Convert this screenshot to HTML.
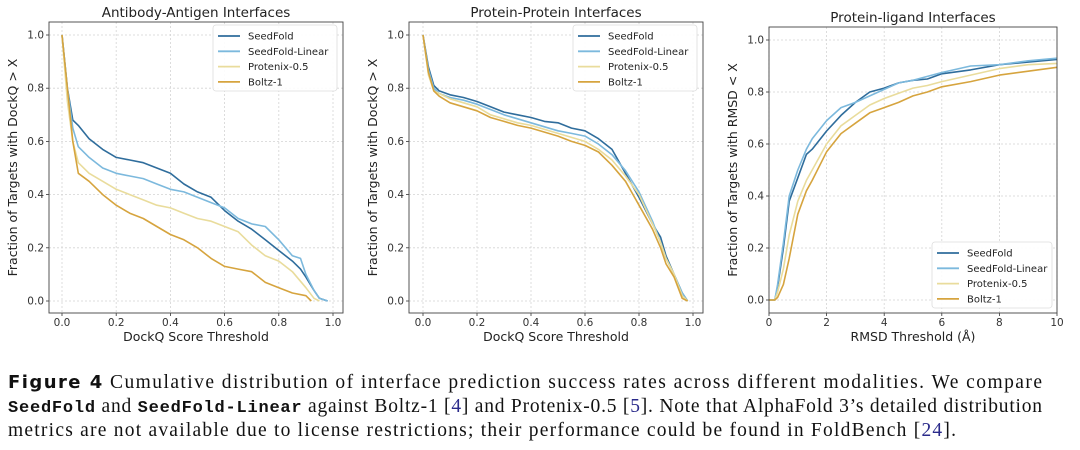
<!DOCTYPE html>
<html><head><meta charset="utf-8"><style>
body{margin:0;background:#fff;}
svg{display:block;}
</style></head><body>
<svg id="fig" width="1080" height="450" viewBox="0 0 1080 450" xmlns="http://www.w3.org/2000/svg" font-family="'DejaVu Sans','Liberation Sans',sans-serif">
<g id="caption" font-family="'Liberation Serif',serif" font-size="19.5" fill="#111">
<text x="8" y="388" textLength="1034" lengthAdjust="spacing"><tspan font-family="'DejaVu Sans','Liberation Sans',sans-serif" font-weight="bold" font-size="18">Figure 4</tspan>  Cumulative distribution of interface prediction success rates across different modalities.  We compare</text>
<text x="8" y="412" textLength="1034" lengthAdjust="spacing"><tspan font-family="'Liberation Mono',monospace" font-weight="bold" font-size="17">SeedFold</tspan> and <tspan font-family="'Liberation Mono',monospace" font-weight="bold" font-size="17">SeedFold-Linear</tspan> against Boltz-1 [<tspan fill="#2a2a8a">4</tspan>] and Protenix-0.5 [<tspan fill="#2a2a8a">5</tspan>]. Note that AlphaFold 3’s detailed distribution</text>
<text x="8" y="436" textLength="948" lengthAdjust="spacing">metrics are not available due to license restrictions; their performance could be found in FoldBench [<tspan fill="#2a2a8a">24</tspan>].</text>
</g>
</svg>
<script>
const seriesNames=["SeedFold","SeedFold-Linear","Protenix-0.5","Boltz-1"];
const colors=["#2f6d9c","#7cb9dd","#e9dc9c","#d6a43e"];
const dockTicks=["0.0","0.2","0.4","0.6","0.8","1.0"];
const dockTickVals=[0,0.2,0.4,0.6,0.8,1.0];
const yTickVals=[0,0.2,0.4,0.6,0.8,1.0];
const yTicks=["0.0","0.2","0.4","0.6","0.8","1.0"];
const rmsdTickVals=[0,2,4,6,8,10];
const rmsdTicks=["0","2","4","6","8","10"];
// Antibody-Antigen
const abX=[0,.02,.04,.06,.1,.15,.2,.25,.3,.35,.4,.45,.5,.55,.6,.65,.7,.75,.8,.85,.88,.9,.93,.95,.98];
const abSeed=[1,.8,.68,.66,.61,.57,.54,.53,.52,.5,.48,.44,.41,.39,.34,.3,.27,.23,.19,.15,.12,.09,.04,.01,0];
const abLin=[1,.8,.65,.58,.54,.5,.48,.47,.46,.44,.42,.41,.39,.37,.35,.31,.29,.28,.23,.17,.16,.1,.04,.01,0];
const abProX=[0,.02,.04,.06,.1,.15,.2,.25,.3,.35,.4,.45,.5,.55,.6,.65,.7,.75,.8,.85,.9,.93,.95];
const abPro=[1,.75,.6,.52,.48,.45,.42,.4,.38,.36,.35,.33,.31,.3,.28,.26,.21,.17,.15,.11,.05,.01,0];
const abBolX=[0,.02,.04,.06,.1,.15,.2,.25,.3,.35,.4,.45,.5,.55,.6,.65,.7,.75,.8,.85,.9,.92];
const abBol=[1,.8,.6,.48,.45,.4,.36,.33,.31,.28,.25,.23,.2,.16,.13,.12,.11,.07,.05,.03,.02,0];
// Protein-Protein
const ppX=[0,.02,.04,.06,.1,.15,.2,.25,.3,.35,.4,.45,.5,.55,.6,.65,.7,.75,.8,.85,.88,.9,.93,.96,.98];
const ppSeed=[1,.88,.81,.79,.775,.765,.75,.73,.71,.7,.69,.675,.67,.65,.64,.61,.57,.48,.39,.29,.24,.17,.1,.03,0];
const ppLin=[1,.87,.8,.78,.765,.755,.74,.72,.7,.685,.67,.655,.64,.63,.62,.59,.55,.49,.41,.3,.22,.16,.1,.03,0];
const ppPro=[1,.85,.79,.78,.76,.745,.73,.7,.685,.67,.66,.645,.63,.615,.6,.57,.53,.47,.4,.29,.22,.16,.1,.02,0];
const ppBol=[1,.86,.79,.77,.745,.73,.715,.69,.675,.66,.65,.635,.62,.6,.585,.56,.51,.45,.36,.27,.2,.14,.09,.01,0];
// Protein-ligand
const plX=[0,.2,.3,.5,.7,1,1.3,1.5,2,2.5,3,3.5,4,4.5,5,5.5,6,7,8,9,10];
const plSeed=[0,0,.05,.2,.38,.47,.56,.58,.65,.71,.76,.8,.815,.835,.845,.85,.87,.885,.905,.915,.925];
const plLin=[0,0,.06,.22,.4,.5,.58,.62,.69,.74,.76,.785,.81,.835,.845,.86,.875,.9,.905,.92,.93];
const plPro=[0,0,.03,.12,.25,.38,.46,.5,.6,.67,.71,.75,.775,.795,.815,.825,.84,.865,.89,.905,.91];
const plBol=[0,0,.01,.06,.16,.33,.42,.46,.57,.64,.68,.72,.74,.76,.785,.8,.82,.84,.865,.88,.895];

const NS="http://www.w3.org/2000/svg";
const svg=document.getElementById("fig");
function mk(tag,attrs,parent){const e=document.createElementNS(NS,tag);for(const k in attrs)e.setAttribute(k,attrs[k]);(parent||svg).appendChild(e);return e;}

function panel(cfg){
  const g=mk("g",{});
  
  
  const sx=v=>cfg.x0+(v-cfg.xmin)/(cfg.xmax-cfg.xmin)*(cfg.x1-cfg.x0);
  const sy=v=>cfg.y0+(v)*(cfg.y1-cfg.y0);
  cfg.xt.forEach((v,i)=>{
    const l=mk("line",{x1:sx(v),x2:sx(v),y1:cfg.ft,y2:cfg.fb,stroke:"#d4d4d4","stroke-width":0.8,"stroke-dasharray":"2,2"},g);
    
    
    mk("line",{x1:sx(v),x2:sx(v),y1:cfg.fb,y2:cfg.fb+3,stroke:"#333","stroke-width":0.8},g);
    const t=mk("text",{x:sx(v),y:cfg.fb+13,"text-anchor":"middle","font-size":10.5,fill:"#333"},g);
    t.textContent=cfg.xl[i];
    
    
  });
  yTickVals.forEach((v,i)=>{
    const l=mk("line",{x1:cfg.fl,x2:cfg.fr,y1:sy(v),y2:sy(v),stroke:"#d4d4d4","stroke-width":0.8,"stroke-dasharray":"2,2"},g);
    
    
    mk("line",{x1:cfg.fl-3,x2:cfg.fl,y1:sy(v),y2:sy(v),stroke:"#333","stroke-width":0.8},g);
    const t=mk("text",{x:cfg.fl-5,y:sy(v)+3.5,"text-anchor":"end","font-size":10.5,fill:"#333"},g);
    t.textContent=yTicks[i];
    
    
  });
  cfg.series.forEach((s,i)=>{
    const pts=s.y.map((y,j)=>sx(s.x[j]).toFixed(1)+","+sy(y).toFixed(1)).join(" ");
    const p=mk("polyline",{points:pts,fill:"none",stroke:colors[i],"stroke-width":1.6,"stroke-linejoin":"round"},g);
    
    
  });
  const f=mk("rect",{x:cfg.fl,y:cfg.ft,width:cfg.fr-cfg.fl,height:cfg.fb-cfg.ft,fill:"none",stroke:"#444","stroke-width":0.9},g);
  
  
  const tt=mk("text",{x:(cfg.fl+cfg.fr)/2,y:cfg.ft-5,"text-anchor":"middle","font-size":13.5,fill:"#222"},g);
  tt.textContent=cfg.title;
  
  
  const xt=mk("text",{x:(cfg.fl+cfg.fr)/2,y:cfg.fb+28,"text-anchor":"middle","font-size":12.5,fill:"#222"},g);
  xt.textContent=cfg.xlabel;
  
  
  const yc=(cfg.ft+cfg.fb)/2;
  const yt=mk("text",{x:cfg.fl-32,y:yc,"text-anchor":"middle","font-size":12.5,fill:"#222",transform:`rotate(-90 ${cfg.fl-32} ${yc})`},g);
  yt.textContent=cfg.ylabel;
  
  
  const L=cfg.leg;
  const lg=mk("g",{},g);
  
  
  mk("rect",{x:L.x,y:L.y,width:L.w,height:66,rx:3,fill:"#fff","fill-opacity":0.9,stroke:"#ddd","stroke-width":0.8},lg);
  seriesNames.forEach((n,i)=>{
    const yy=L.y+11+i*15.3;
    const e=mk("g",{},lg);
    
    
    mk("line",{x1:L.x+5,x2:L.x+27,y1:yy,y2:yy,stroke:colors[i],"stroke-width":1.8},e);
    const t=mk("text",{x:L.x+35,y:yy+3.5,"font-size":10,fill:"#222"},e);
    t.textContent=n;
  });
}
panel({name:"antibody-antigen-chart",title:"Antibody-Antigen Interfaces",xlabel:"DockQ Score Threshold",ylabel:"Fraction of Targets with DockQ > X",
  fl:49,fr:343,ft:22,fb:313,x0:62,x1:333,xmin:0,xmax:1,y0:301,y1:35,xt:dockTickVals,xl:dockTicks,leg:{x:213,y:25,w:124},
  series:[{x:abX,y:abSeed},{x:abX,y:abLin},{x:abProX,y:abPro},{x:abBolX,y:abBol}]});
panel({name:"protein-protein-chart",title:"Protein-Protein Interfaces",xlabel:"DockQ Score Threshold",ylabel:"Fraction of Targets with DockQ > X",
  fl:409,fr:703,ft:22,fb:313,x0:423,x1:693,xmin:0,xmax:1,y0:301,y1:35,xt:dockTickVals,xl:dockTicks,leg:{x:573,y:25,w:124},
  series:[{x:ppX,y:ppSeed},{x:ppX,y:ppLin},{x:ppX,y:ppPro},{x:ppX,y:ppBol}]});
panel({name:"protein-ligand-chart",title:"Protein-ligand Interfaces",xlabel:"RMSD Threshold (Å)",ylabel:"Fraction of Targets with RMSD < X",
  fl:769,fr:1057,ft:27,fb:313,x0:769,x1:1057,xmin:0,xmax:10,y0:300,y1:40,xt:rmsdTickVals,xl:rmsdTicks,leg:{x:932,y:242,w:120},
  series:[{x:plX,y:plSeed},{x:plX,y:plLin},{x:plX,y:plPro},{x:plX,y:plBol}]});
</script>
</body></html>
